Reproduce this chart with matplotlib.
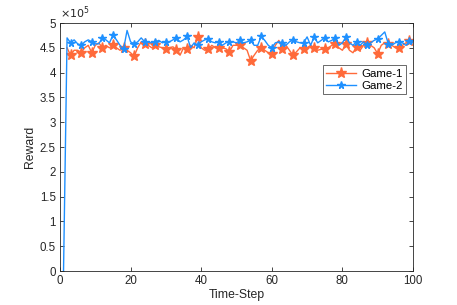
import numpy as np
import matplotlib
matplotlib.use("Agg")
import matplotlib.pyplot as plt
from matplotlib.ticker import FuncFormatter

plt.rcParams['font.family'] = ['Liberation Sans', 'DejaVu Sans']

# time steps
steps2 = list(range(1, 101))
steps1 = list(range(2, 101))

# rewards in units of 1e5
game1 = [4.50, 4.35, 4.45, 4.45, 4.40, 4.50, 4.55, 4.40, 4.55,
         4.60, 4.50, 4.55, 4.50, 4.55, 4.50, 4.45, 4.50, 4.45, 4.40,
         4.33, 4.50, 4.62, 4.58, 4.55, 4.50, 4.55, 4.52, 4.50, 4.47,
         4.50, 4.52, 4.46, 4.35, 4.50, 4.47, 4.55, 4.50, 4.72, 4.50,
         4.45, 4.47, 4.55, 4.50, 4.50, 4.50, 4.48, 4.42, 4.55, 4.55,
         4.55, 4.50, 4.45, 4.24, 4.35, 4.45, 4.50, 4.45, 4.40, 4.38,
         4.55, 4.65, 4.47, 4.55, 4.45, 4.35, 4.42, 4.50, 4.47, 4.50,
         4.55, 4.50, 4.45, 4.47, 4.47, 4.50, 4.55, 4.57, 4.50, 4.45,
         4.57, 4.45, 4.40, 4.52, 4.45, 4.55, 4.60, 4.55, 4.50, 4.38,
         4.55, 4.60, 4.57, 4.55, 4.50, 4.50, 4.55, 4.60, 4.63, 4.62]
game2 = [0.00, 4.70, 4.60, 4.66, 4.58, 4.55, 4.62, 4.66, 4.62, 4.58,
         4.58, 4.70, 4.66, 4.60, 4.75, 4.66, 4.55, 4.47, 4.85, 4.62,
         4.58, 4.62, 4.70, 4.62, 4.62, 4.60, 4.62, 4.65, 4.60, 4.62,
         4.62, 4.66, 4.70, 4.62, 4.66, 4.73, 4.50, 4.60, 4.55, 4.62,
         4.66, 4.68, 4.62, 4.60, 4.62, 4.55, 4.60, 4.62, 4.62, 4.60,
         4.65, 4.60, 4.62, 4.65, 4.55, 4.55, 4.73, 4.65, 4.55, 4.50,
         4.60, 4.62, 4.60, 4.55, 4.62, 4.66, 4.62, 4.60, 4.60, 4.72,
         4.55, 4.72, 4.60, 4.65, 4.70, 4.62, 4.65, 4.70, 4.55, 4.60,
         4.72, 4.60, 4.55, 4.62, 4.55, 4.62, 4.55, 4.60, 4.65, 4.68,
         4.75, 4.82, 4.58, 4.55, 4.60, 4.62, 4.60, 4.55, 4.63, 4.60]

x1 = np.array(steps1)
x2 = np.array(steps2)
y1 = np.array(game1) * 1e5
y2 = np.array(game2) * 1e5

orange = '#FF6A3A'
blue = '#1E90FF'
gray = '#262626'

fig = plt.figure(figsize=(4.57, 3.05), dpi=100)
ax = fig.add_axes([60 / 457, 34 / 305, 353 / 457, 248 / 305])

ax.plot(x1, y1, color=orange, lw=1.0, marker='*', ms=8, markevery=(1, 3), label='Game-1')
ax.plot(x2, y2, color=blue, lw=1.0, marker='*', ms=5.5, markevery=(2, 3), label='Game-2')

ax.set_xlim(0, 100)
ax.set_ylim(0, 5e5)
ax.set_xticks(range(0, 101, 20))
ax.set_yticks(np.arange(0, 5.01e5, 0.5e5))
ax.yaxis.set_major_formatter(FuncFormatter(lambda v, p: f"{v / 1e5:g}"))

ax.tick_params(direction='in', top=True, right=True, length=3, width=0.6,
               labelsize=8.3, colors=gray, pad=3)
for s in ax.spines.values():
    s.set_linewidth(0.6)
    s.set_color(gray)

ax.set_xlabel('Time-Step', fontsize=8.8, color=gray, labelpad=1)
ax.set_ylabel('Reward', fontsize=8.8, color=gray, labelpad=3)
ax.text(0, 1.008, r'$\times10^5$', transform=ax.transAxes, fontsize=8,
        color=gray, ha='left', va='bottom')

leg = ax.legend(loc='upper left', bbox_to_anchor=(0.745, 0.83), fontsize=8.2,
                frameon=True, fancybox=False, edgecolor=gray, borderpad=0.3,
                handlelength=2.6, handletextpad=0.5, labelspacing=0.2,
                borderaxespad=0)
leg.get_frame().set_linewidth(0.6)

fig.savefig('out.png', dpi=100)
